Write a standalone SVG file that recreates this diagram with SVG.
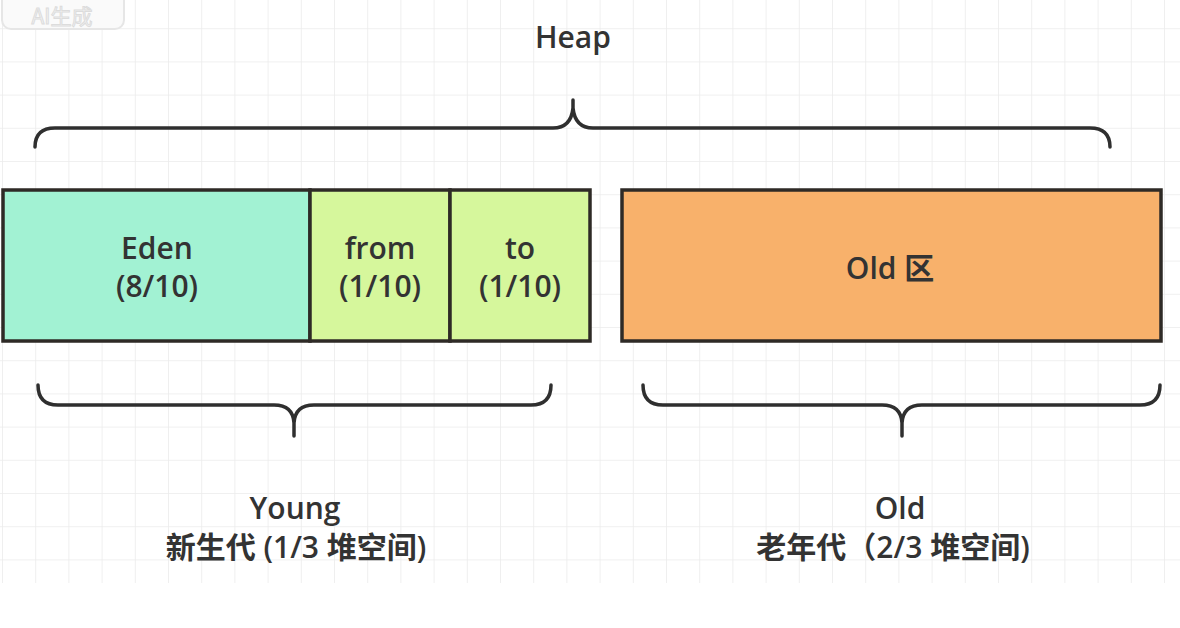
<svg xmlns="http://www.w3.org/2000/svg" width="1180" height="628" viewBox="0 0 1180 628">
<style>
.lbl{font-family:"Open Sans","Noto Sans CJK SC",sans-serif;font-weight:600;font-size:30px;fill:#333;text-anchor:middle}
.cjk{font-family:"Open Sans","Noto Sans CJK SC",sans-serif;font-weight:600;font-size:30px;fill:#333;text-anchor:middle}
.box{stroke:#2e2a26;stroke-width:3.5}
.brace{fill:none;stroke:#2f2f2f;stroke-width:3.5;stroke-linecap:round;stroke-linejoin:round}
</style>
<defs>
<pattern id="grid" x="2" y="-5" width="33.2" height="33.2" patternUnits="userSpaceOnUse">
<path d="M0,0 V33.2 M0,0 H33.2" fill="none" stroke="#ebebeb" stroke-width="1.5"/>
</pattern>
</defs>
<rect width="1180" height="628" fill="#ffffff"/>
<rect x="0" y="0" width="1180" height="583" fill="url(#grid)"/>
<g id="watermark">
<rect x="2" y="-12" width="122" height="41" rx="9" fill="#fafafa" stroke="#e6e6e6" stroke-width="2"/>
<text x="62" y="24" font-family="'Noto Sans CJK SC',sans-serif" font-size="21" fill="#f5f5f5" stroke="#dcdcdc" stroke-width="1" text-anchor="middle">AI生成</text>
</g>
<g id="heap-label"><text class="lbl" x="573" y="48">Heap</text></g>
<g id="connectors">
<path class="brace" d="M35,147 Q35,128 55,128 L553,128 Q571,128 573,108 L573,100 M573,108 Q575,128 593,128 L1090,128 Q1110,128 1110,147"/>
<path class="brace" d="M38,385 Q38,405 58,405 L274,405 Q293,405 294,423 L294,436 M294,423 Q295,405 314,405 L531,405 Q551,405 551,385"/>
<path class="brace" d="M643,385 Q643,405 663,405 L882,405 Q901,405 902,423 L902,436 M902,423 Q903,405 922,405 L1140,405 Q1160,405 1160,385"/>
</g>
<g id="eden">
<rect class="box" x="3" y="190" width="307" height="151" fill="#a2f2d3"/>
<text class="lbl" x="157" y="259">Eden</text>
<text class="lbl" x="157" y="297">(8/10)</text>
</g>
<g id="from">
<rect class="box" x="310" y="190" width="140" height="151" fill="#d6f79c"/>
<text class="lbl" x="380" y="259">from</text>
<text class="lbl" x="380" y="297">(1/10)</text>
</g>
<g id="to">
<rect class="box" x="450" y="190" width="140" height="151" fill="#d6f79c"/>
<text class="lbl" x="520" y="259">to</text>
<text class="lbl" x="520" y="297">(1/10)</text>
</g>
<g id="old">
<rect class="box" x="622" y="190" width="539" height="151" fill="#f8b16b"/>
<text class="lbl" x="890" y="279">Old 区</text>
</g>
<g id="young-label">
<text class="lbl" x="295" y="519">Young</text>
<text class="cjk" x="296" y="558">新生代 (1/3 堆空间)</text>
</g>
<g id="old-label">
<text class="lbl" x="900" y="519">Old</text>
<text class="cjk" x="893" y="558">老年代（2/3 堆空间)</text>
</g>
</svg>
